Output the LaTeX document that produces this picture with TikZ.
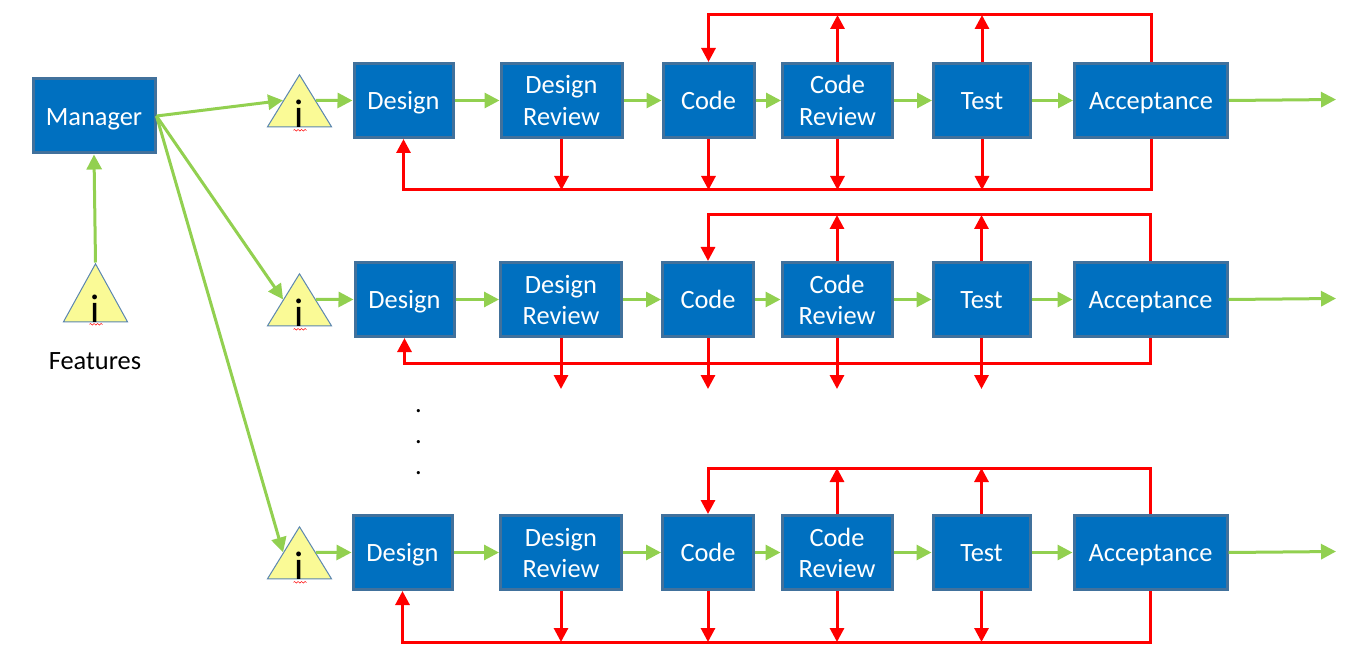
\documentclass[tikz,border=0pt]{standalone}
\usepackage{fontspec}
\setmainfont{Carlito}
\usetikzlibrary{shapes.geometric}
\usetikzlibrary{arrows.meta,calc}
\usetikzlibrary{decorations.pathmorphing}
\definecolor{boxblue}{HTML}{0070C0}
\definecolor{boxedge}{HTML}{41719C}
\definecolor{flowgreen}{HTML}{92D050}
\definecolor{warnyellow}{HTML}{FAFA96}
\definecolor{warnedge}{HTML}{5B86B0}
\newcommand{\boxline}{\rule[-6.5pt]{0pt}{31.5pt}}
\begin{document}
\begin{tikzpicture}[x=1pt,y=-1pt,
    box/.style={rectangle, draw=boxedge, fill=boxblue, line width=3pt, text=white, align=center, minimum height=74pt, inner sep=0pt, font=\fontsize{26.4}{31.5}\selectfont},
    warn/.style={isosceles triangle, isosceles triangle stretches, shape border rotate=90, draw=warnedge, fill=warnyellow, line width=1pt, minimum width=64pt, inner sep=0pt, anchor=apex},
    warntext/.style={anchor=base, inner sep=0pt, font=\fontsize{40}{40}\selectfont},
    squiggle/.style={draw=red, line width=.5pt, decorate, decoration={snake, amplitude=.8pt, segment length=3.5pt}},
    go/.style={draw=flowgreen, line width=3pt, -{Triangle[length=15pt,width=15pt]}},
    back/.style={draw=red, line width=3pt, -{Triangle[length=14pt,width=14pt]}}]
            \useasboundingbox (0,0) rectangle (1364,668);

            \node[box, minimum width=122pt] (M) at (94,116) {Manager\boxline};
            \node[warn, minimum height=58pt] (W0) at (95.5,262.5) {};
            \node[warntext] (I0) at (W0.lower side) {i};
            \path[squiggle] ($(W0.lower side)+(-6,2)$) -- ($(W0.lower side)+(7,2)$);
            \node[font=\fontsize{26.4}{31}\selectfont] (F) at (95,361) {Features};
            \draw[go] (W0.apex) -- (M.south);

            \node[font=\fontsize{26.4}{31}\selectfont, align=center, inner sep=0pt] (dots) at (418.5,442) {.\\.\\.};

            \foreach \n/\yy/\dx/\o/\busy/\tipy/\topy in {1/100.5/403.5/1/190/190/15, 2/299.5/404.5/0/363/389/215, 3/552.5/402.5/0/642/642/468}{
                \coordinate (bus\n) at (0,\busy);
                \coordinate (tip\n) at (0,\tipy);
                \coordinate (top\n) at (0,\topy);
                \coordinate (out\n) at (1336,\yy-1);

                \node[warn, minimum height=52pt] (W\n) at (299.5,\yy-27) {};
                \node[warntext] (I\n) at (W\n.lower side) {i};
                \path[squiggle] ($(W\n.lower side)+(-6,3)$) -- ($(W\n.lower side)+(7,3)$);

                \node[box, minimum width=99pt] (D\n) at (\dx,\yy) {Design\boxline};
                \foreach \s/\x/\w/\t in {R/561/121/{Design\boxline\\Review\boxline}, C/708/91/Code\boxline, E/837/110/{Code\boxline\\Review\boxline}, T/981.5/97/Test\boxline, A/1150.5/153/Acceptance\boxline}{
                    \node[box, minimum width=\w pt] (\s\n) at ({\x+\o*0.5},\yy) {\t};
                }

                \draw[go] (M.east) -- ($(W\n.apex)!0.5!(W\n.left corner)$);
                \draw[go] ($(W\n.apex)!0.5!(W\n.right corner)$) -- (D\n.west);
                \foreach \s/\d in {D/R, R/C, C/E, E/T, T/A}{
                    \draw[go] (\s\n.east) -- (\d\n.west);
                }
                \draw[go] (A\n.east) -- (out\n);

                \draw[back] (A\n.north) |- (top\n -| C\n.north) -- (C\n.north);
                \foreach \s in {E,T}{
                    \draw[back] (\s\n.north) -- (\s\n.north |- top\n);
                }
                \draw[back] (A\n.south) |- (bus\n -| D\n.south) -- (D\n.south);
                \foreach \s in {R,C,E,T}{
                    \draw[back] (\s\n.south) -- (\s\n.south |- tip\n);
                }
            }
    \end{tikzpicture}
\end{document}
